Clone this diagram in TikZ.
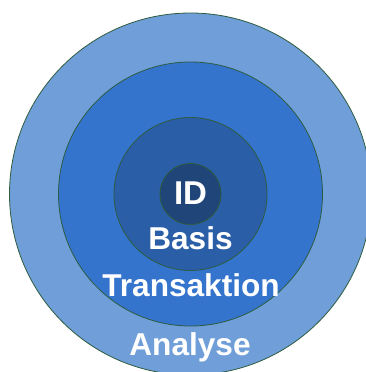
\documentclass[tikz,border=0pt]{standalone}
\usepackage{fontspec}
\setmainfont{Liberation Sans}
\newlength{\du}
\setlength{\du}{1pt}
\definecolor{ringline}{rgb}{0.180000, 0.360000, 0.250000}
\definecolor{analysecolor}{rgb}{0.435000, 0.620000, 0.847000}
\definecolor{transcolor}{rgb}{0.204000, 0.455000, 0.800000}
\definecolor{basiscolor}{rgb}{0.165000, 0.370000, 0.650000}
\definecolor{idcolor}{rgb}{0.122000, 0.270000, 0.475000}
\tikzset{
  ring/.style={draw=ringline, line width=0.8\du},
  ringlabel/.style={anchor=base, text=white, font=\bfseries\fontsize{31.6}{31.6}\selectfont, inner sep=0pt}
}

\begin{document}
\begin{tikzpicture}
\pgftransformxscale{1.000000}
\pgftransformyscale{-1.000000}
\useasboundingbox (0\du,0\du) rectangle (366\du,372\du);
\clip (0\du,0\du) rectangle (366\du,372\du);
% rings, outside in
\coordinate (centre) at (190.500000\du,194.000000\du);
\filldraw[ring, fill=analysecolor] (centre) circle (181.000000\du);
\filldraw[ring, fill=transcolor] (centre) circle (132.000000\du);
\filldraw[ring, fill=basiscolor] (centre) circle (76.500000\du);
\filldraw[ring, fill=idcolor] (centre) circle (30.500000\du);
% labels
\node[ringlabel, font=\bfseries\fontsize{33}{33}\selectfont] (id) at (190.500000\du,204.000000\du){ID};
\node[ringlabel] (basis) at (190.500000\du,249.000000\du){Basis};
\node[ringlabel] (transaktion) at (191.000000\du,296.000000\du){Transaktion};
\node[ringlabel] (analyse) at (190.000000\du,355.000000\du){Analyse};
\end{tikzpicture}
\end{document}
